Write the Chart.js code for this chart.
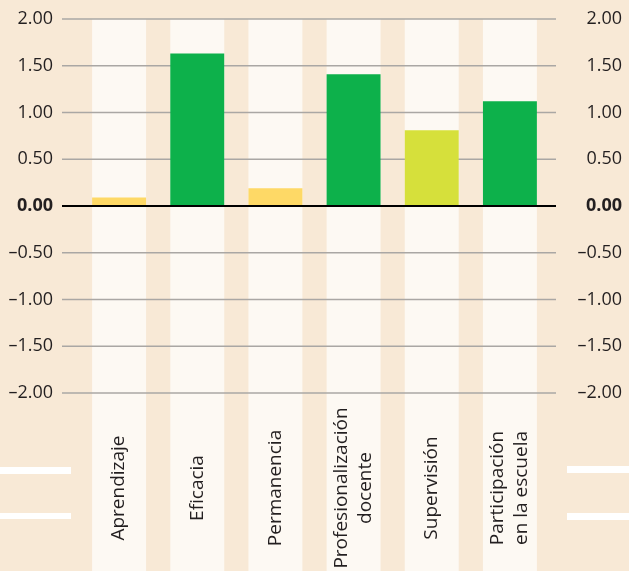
<!DOCTYPE html>
<html>
<head>
<meta charset="utf-8">
<script src="https://cdn.jsdelivr.net/npm/chart.js@4.4.0/dist/chart.umd.min.js"></script>
<style>
    html, body { margin: 0; padding: 0; background: #f8e9d6; }
    canvas { display: block; }
</style>
</head>
<body>
<canvas id="chart" width="629" height="571"></canvas>
<script>
// Chart data
const categories = [
    ['Aprendizaje'],
    ['Eficacia'],
    ['Permanencia'],
    ['Profesionalización', 'docente'],
    ['Supervisión'],
    ['Participación', 'en la escuela']
];
const values = [0.09, 1.63, 0.19, 1.41, 0.81, 1.12];
const barColors = ['#fed966', '#0db14b', '#fed966', '#0db14b', '#d6e03b', '#0db14b'];
const yTickValues = [-2, -1.5, -1, -0.5, 0, 0.5, 1, 1.5, 2];

const FONT = '"Open Sans", "Noto Sans", sans-serif';
const TEXT = '#231f20';

function formatTick(value) {
    const s = Math.abs(value).toFixed(2);
    return value < 0 ? '\u2013' + s : s;
}

/**
 * Column stripes, gridlines, zero line and rotated category labels
 */
const backdrop = {
    id: 'backdrop',
    beforeDatasetsDraw(chart) {
        const { ctx, chartArea, scales: { y } } = chart;
        const meta = chart.getDatasetMeta(0);
        const top = y.getPixelForValue(2);

        ctx.save();
        ctx.fillStyle = '#fdf9f3';
        meta.data.forEach(function (bar) {
            ctx.fillRect(bar.x - bar.width / 2, top, bar.width, chart.height - top);
        });

        ctx.strokeStyle = '#aaa7a4';
        ctx.lineWidth = 1.5;
        yTickValues.forEach(function (v) {
            if (v === 0) return;
            const py = y.getPixelForValue(v);
            ctx.beginPath();
            ctx.moveTo(chartArea.left - 18, py);
            ctx.lineTo(chartArea.right + 7, py);
            ctx.stroke();
        });

        // decorative white dashes at the sides
        ctx.fillStyle = '#ffffff';
        ctx.fillRect(0, 467, 71, 7);
        ctx.fillRect(0, 513, 71, 6);
        ctx.fillRect(567, 466, 62, 7);
        ctx.fillRect(567, 513, 62, 7);
        ctx.restore();
    },
    afterDatasetsDraw(chart) {
        const { ctx, chartArea, scales: { x, y } } = chart;
        const zero = y.getPixelForValue(0);

        ctx.save();
        ctx.strokeStyle = '#000';
        ctx.lineWidth = 2;
        ctx.beginPath();
        ctx.moveTo(chartArea.left - 18, zero);
        ctx.lineTo(chartArea.right + 7, zero);
        ctx.stroke();

        ctx.fillStyle = TEXT;
        ctx.font = '19px ' + FONT;
        ctx.textAlign = 'center';
        ctx.textBaseline = 'middle';
        const lineHeight = 24;
        categories.forEach(function (lines, i) {
            const cx = x.getPixelForValue(i);
            ctx.save();
            ctx.translate(cx, 488);
            ctx.rotate(-Math.PI / 2);
            lines.forEach(function (line, j) {
                const offset = (j - (lines.length - 1) / 2) * lineHeight;
                ctx.fillText(line, 0, offset);
            });
            ctx.restore();
        });
        ctx.restore();
    }
};

function yAxis(position, width) {
    return {
        type: 'linear',
        position: position,
        min: -2,
        max: 2,
        grid: { display: false, drawTicks: false },
        border: { display: false },
        afterBuildTicks: function (scale) {
            scale.ticks = yTickValues.map(function (v) { return { value: v }; });
        },
        afterFit: function (scale) {
            scale.width = width;
            scale.paddingTop = 0;
            scale.paddingBottom = 0;
        },
        ticks: {
            padding: position === 'left' ? 27 : 0,
            crossAlign: position === 'left' ? 'near' : 'far',
            color: TEXT,
            font: function (context) {
                return {
                    family: FONT,
                    size: 18,
                    weight: context.tick && context.tick.value === 0 ? 'bold' : 'normal'
                };
            },
            callback: formatTick
        }
    };
}

new Chart(document.getElementById('chart'), {
    type: 'bar',
    data: {
        labels: categories.map(function (c) { return c.join(' '); }),
        datasets: [{
            data: values,
            backgroundColor: barColors,
            borderWidth: 0,
            categoryPercentage: 0.69,
            barPercentage: 1,
            yAxisID: 'y'
        }]
    },
    options: {
        responsive: false,
        animation: false,
        layout: {
            padding: { top: 19, bottom: 178, left: 0, right: 7 }
        },
        plugins: {
            legend: { display: false },
            tooltip: { enabled: false }
        },
        scales: {
            x: {
                display: false,
                offset: true
            },
            y: yAxis('left', 80),
            y2: yAxis('right', 73)
        }
    },
    plugins: [backdrop]
});
</script>
</body>
</html>
